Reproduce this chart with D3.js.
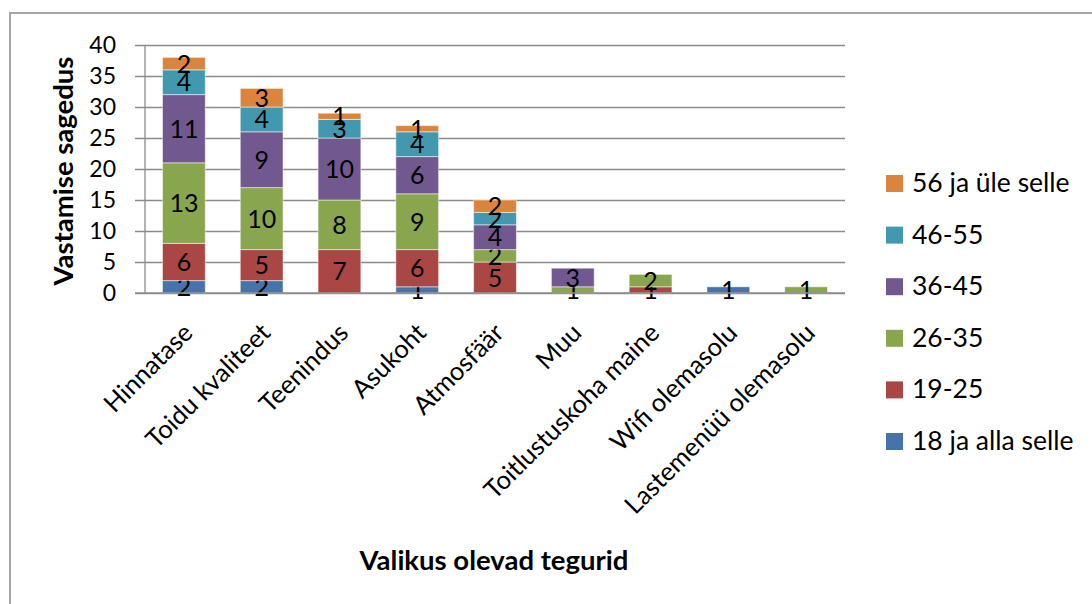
<!DOCTYPE html>
<html>
<head>
<meta charset="utf-8">
<script src="https://cdn.jsdelivr.net/npm/d3@7"></script>
<style>
  body { margin: 0; background: #fff; }
  svg { display: block; font-family: Lato, "Open Sans", sans-serif; }
</style>
</head>
<body>
<div id="holder"></div>
<script>
const w = 1092;
const h = 604;

// Data
const categories = ["Hinnatase", "Toidu kvaliteet", "Teenindus", "Asukoht", "Atmosfäär", "Muu", "Toitlustuskoha maine", "Wifi olemasolu", "Lastemenüü olemasolu"];
const seriesNames = ["18 ja alla selle", "19-25", "26-35", "36-45", "46-55", "56 ja üle selle"];
const under18 = [2, 2, 0, 1, 0, 0, 0, 1, 0];
const age19to25 = [6, 5, 7, 6, 5, 0, 1, 0, 0];
const age26to35 = [13, 10, 8, 9, 2, 1, 2, 0, 1];
const age36to45 = [11, 9, 10, 6, 4, 3, 0, 0, 0];
const age46to55 = [4, 4, 3, 4, 2, 0, 0, 0, 0];
const over56 = [2, 3, 1, 1, 2, 0, 0, 0, 0];
const yTicks = [0, 5, 10, 15, 20, 25, 30, 35, 40];

const colors = ["#4674AA", "#AA4643", "#89A54E", "#71588F", "#4198AF", "#DB843D"];

// table for the stack
const table = categories.map((c, i) => ({
    cat: c,
    "18 ja alla selle": under18[i],
    "19-25": age19to25[i],
    "26-35": age26to35[i],
    "36-45": age36to45[i],
    "46-55": age46to55[i],
    "56 ja üle selle": over56[i]
}));

const svg = d3.select("#holder")
    .append("svg")
    .attr("width", w)
    .attr("height", h)

// outer frame
svg.append("rect")
    .attr("x", 10).attr("y", 13)
    .attr("width", 1200).attr("height", 700)
    .attr("fill", "none")
    .attr("stroke", "#a6a6a6")
    .attr("stroke-width", 2)

const x = d3.scaleBand()
    .domain(categories)
    .range([145, 845])
    .paddingInner(0.45)
    .paddingOuter(0.225)

const y = d3.scaleLinear()
    .domain([0, 40])
    .range([293, 45])

// gridlines + y ticks
const yAxis = d3.axisLeft(y)
    .tickValues(yTicks)
    .tickSize(-(845 - 135))
    .tickPadding(0)

svg.append("g")
    .attr("transform", "translate(135,0)")
    .call(yAxis)
    .call(g => g.select(".domain").remove())
    .call(g => g.selectAll(".tick line").attr("stroke", "#8c8c8c").attr("stroke-width", 1.3))
    .call(g => g.selectAll(".tick text")
        .attr("x", -19)
        .attr("font-size", 23)
        .attr("font-family", "Lato")
        .attr("fill", "#000"))

// y axis line
svg.append("line")
    .attr("x1", 145).attr("x2", 145)
    .attr("y1", y(40)).attr("y2", y(0))
    .attr("stroke", "#8c8c8c")
    .attr("stroke-width", 1.3)

// stacked bars
const stack = d3.stack().keys(seriesNames)(table);

const layers = svg.selectAll("g.layer")
    .data(stack)
    .join("g")
    .attr("class", "layer")
    .attr("fill", (d, i) => colors[i])

layers.selectAll("rect")
    .data(d => d.filter(s => s[1] - s[0] > 0))
    .join("rect")
    .attr("x", d => x(d.data.cat))
    .attr("y", d => y(d[1]))
    .attr("width", x.bandwidth())
    .attr("height", d => y(d[0]) - y(d[1]))
    .attr("stroke", "#fff")
    .attr("stroke-opacity", 0.5)
    .attr("stroke-width", 1)

// value labels
layers.selectAll("text")
    .data(d => d.filter(s => s[1] - s[0] > 0))
    .join("text")
    .attr("x", d => x(d.data.cat) + x.bandwidth() / 2)
    .attr("y", d => y((d[0] + d[1]) / 2))
    .attr("dy", "0.36em")
    .attr("text-anchor", "middle")
    .attr("font-size", 25)
    .attr("fill", "#000")
    .text(d => d[1] - d[0])

// x axis line
svg.append("line")
    .attr("x1", 135).attr("x2", 845)
    .attr("y1", y(0)).attr("y2", y(0))
    .attr("stroke", "#8c8c8c")
    .attr("stroke-width", 1.3)

// category labels
svg.selectAll("text.cat")
    .data(categories)
    .join("text")
    .attr("class", "cat")
    .attr("transform", d => `translate(${x(d) + x.bandwidth() / 2 + 1},${325}) rotate(-45)`)
    .attr("dy", "0.52em")
    .attr("text-anchor", "end")
    .attr("font-size", 25.5)
    .attr("fill", "#000")
    .text(d => d)

// axis titles
svg.append("text")
    .attr("transform", `translate(73,${(y(0) + y(40)) / 2 + 2}) rotate(-90)`)
    .attr("text-anchor", "middle")
    .attr("font-size", 27.5)
    .attr("font-weight", "bold")
    .text("Vastamise sagedus")

svg.append("text")
    .attr("x", 494)
    .attr("y", 570)
    .attr("text-anchor", "middle")
    .attr("font-size", 27.5)
    .attr("font-weight", "bold")
    .text("Valikus olevad tegurid")

// legend
const legendItems = seriesNames.slice().reverse();
const legend = svg.selectAll("g.legend")
    .data(legendItems)
    .join("g")
    .attr("class", "legend")
    .attr("transform", (d, i) => `translate(886,${175 + i * 51.6})`)

legend.append("rect")
    .attr("width", 17)
    .attr("height", 17)
    .attr("fill", d => colors[seriesNames.indexOf(d)])

legend.append("text")
    .attr("x", 26)
    .attr("y", 17)
    .attr("font-size", 26.5)
    .attr("fill", "#000")
    .text(d => d)
</script>
</body>
</html>
